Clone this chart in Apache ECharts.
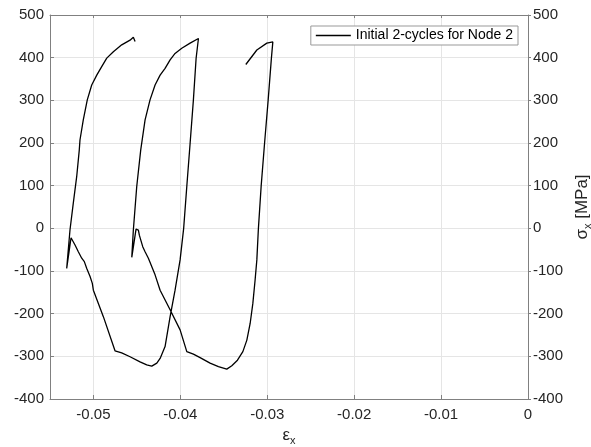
<!DOCTYPE html>
<html>
<head>
<meta charset="utf-8">
<script src="https://cdn.jsdelivr.net/npm/echarts@6/dist/echarts.min.js"></script>
<style>
html,body{margin:0;padding:0;background:#fff;}
#c{width:591px;height:447px;}
</style>
</head>
<body>
<div id="c"></div>
<script>
// Strain (εx) along the traced path
const strain = [
  -0.03247, -0.03120, -0.03005, -0.02936, -0.02952, -0.02990, -0.03031, -0.03070, -0.03102,
  -0.03120, -0.03140, -0.03166, -0.03197, -0.03235, -0.03281, -0.03343, -0.03408, -0.03466,
  -0.03562, -0.03658, -0.03773, -0.03850, -0.03926,
  -0.04003, -0.04118, -0.04233, -0.04291, -0.04368, -0.04406, -0.04433, -0.04456, -0.04472, -0.04483, -0.04510,
  -0.04559,
  -0.04541, -0.04502, -0.04456, -0.04406, -0.04349, -0.04291, -0.04233, -0.04176, -0.04118, -0.04061, -0.03984, -0.03888, -0.03792,
  -0.03819, -0.03850, -0.03888, -0.03926, -0.03962,
  -0.04003, -0.04061, -0.04118, -0.04176, -0.04233, -0.04271, -0.04329,
  -0.04387, -0.04464, -0.04579, -0.04675, -0.04752,
  -0.04886, -0.05001, -0.05013, -0.05039, -0.05077, -0.05105, -0.05135, -0.05174, -0.05212, -0.05258,
  -0.05308,
  -0.05270, -0.05232, -0.05193, -0.05163, -0.05155, -0.05117, -0.05071, -0.05020, -0.04962, -0.04905, -0.04847, -0.04771, -0.04675, -0.04579, -0.04541, -0.04521
];
// Stress (σx, MPa) along the traced path
const stress = [
  384, 418, 434, 437, 400, 300, 200, 100, 0,
  -74, -121, -176, -223, -262, -289, -309, -322, -330,
  -324, -316, -303, -295, -289,
  -238, -191, -145, -109, -70, -55, -43, -27, -16, -4, -2,
  -68,
  -4, 98, 184, 254, 301, 336, 359, 375, 395, 410, 422, 434, 445,
  398, 301, 199, 98, 0,
  -74, -145, -207, -277, -305, -316, -323,
  -320, -313, -301, -292, -287,
  -207, -145, -129, -113, -94, -78, -70, -55, -39, -22,
  -94,
  -4, 59, 121, 184, 207, 254, 301, 336, 359, 379, 399, 414, 430, 441, 448, 438
];
const xTicks = [-0.05, -0.04, -0.03, -0.02, -0.01, 0];
const yTicks = [-400, -300, -200, -100, 0, 100, 200, 300, 400, 500];
const seriesName = 'Initial 2-cycles for Node 2';

const data = strain.map((x, i) => [x, stress[i]]);

const axisColor = '#808080';
const labelColor = '#262626';
const gridColor = '#e5e5e5';
const fontFamily = '"Liberation Sans", Arial, sans-serif';

const chart = echarts.init(document.getElementById('c'), null, {renderer: 'canvas'});
chart.setOption({
  animation: false,
  backgroundColor: '#fff',
  grid: {left: 50, right: 63, top: 15, bottom: 48, containLabel: false, outerBoundsMode: 'none'},
  legend: {
    data: [{name: seriesName, icon: 'rect'}],
    right: 73, top: 26,
    padding: [2, 5, 2, 5],
    itemWidth: 35, itemHeight: 1.4, itemGap: 3,
    itemStyle: {color: '#000', borderWidth: 0},
    backgroundColor: '#fff',
    borderColor: '#999', borderWidth: 1,
    textStyle: {fontSize: 14, color: '#000', fontFamily: fontFamily, padding: [0,0,0,0], lineHeight: 15}
  },
  xAxis: [{
    type: 'value', position: 'bottom',
    min: -0.055, max: 0,
    axisLine: {show: true, onZero: false, lineStyle: {color: axisColor, width: 1}},
    axisTick: {show: true, inside: true, length: 4, lineStyle: {color: axisColor}, customValues: xTicks},
    axisLabel: {customValues: xTicks, margin: 8, fontSize: 15, color: labelColor, fontFamily: fontFamily,
      formatter: v => (Math.abs(v) < 1e-9 ? '0' : v.toFixed(2))},
    splitLine: {show: true, lineStyle: {color: gridColor, width: 1}},
    name: '{a|ε}{b|x}',
    nameLocation: 'middle', nameGap: 24,
    nameTextStyle: {rich: {
      a: {fontSize: 17, color: labelColor, fontFamily: fontFamily},
      b: {fontSize: 11, color: labelColor, fontFamily: fontFamily, padding: [12, 0, 0, 0]}
    }}
  }, {
    type: 'value', position: 'top',
    min: -0.055, max: 0,
    axisLine: {show: true, onZero: false, lineStyle: {color: axisColor, width: 1}},
    axisTick: {show: true, inside: true, length: 3, lineStyle: {color: axisColor}, customValues: xTicks},
    axisLabel: {show: false},
    splitLine: {show: false}
  }],
  yAxis: [{
    type: 'value', position: 'left',
    min: -400, max: 500, interval: 100,
    axisLine: {show: true, onZero: false, lineStyle: {color: axisColor, width: 1}},
    axisTick: {show: true, inside: true, length: 4, lineStyle: {color: axisColor}},
    axisLabel: {margin: 6, fontSize: 15, color: labelColor, fontFamily: fontFamily},
    splitLine: {show: true, lineStyle: {color: gridColor, width: 1}}
  }, {
    type: 'value', position: 'right',
    min: -400, max: 500, interval: 100,
    axisLine: {show: true, onZero: false, lineStyle: {color: axisColor, width: 1}},
    axisTick: {show: true, inside: false, length: 3, lineStyle: {color: axisColor}},
    axisLabel: {margin: 5, fontSize: 15, color: labelColor, fontFamily: fontFamily},
    splitLine: {show: false},
    name: '{a|σ}{b|x}{a| [MPa]}',
    nameLocation: 'middle', nameGap: 37, nameRotate: 90,
    nameTextStyle: {rich: {
      a: {fontSize: 17, color: labelColor, fontFamily: fontFamily},
      b: {fontSize: 11, color: labelColor, fontFamily: fontFamily, padding: [12, 0, 0, 0]}
    }}
  }],
  series: [{
    name: seriesName,
    type: 'line',
    xAxisIndex: 0, yAxisIndex: 0,
    data: data,
    symbol: 'none',
    smooth: false,
    lineStyle: {color: '#000', width: 1.3},
    itemStyle: {color: '#000'}
  }]
});
</script>
</body>
</html>
